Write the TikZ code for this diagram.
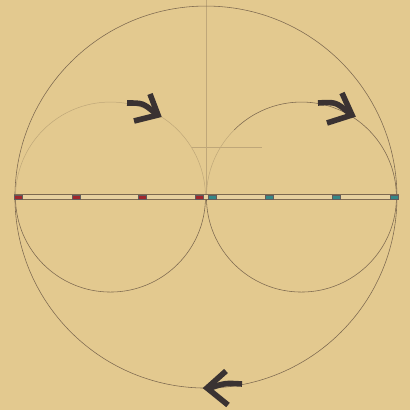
\documentclass[tikz,border=0pt]{standalone}
\usepackage{tikz}
\usetikzlibrary{positioning}
\definecolor{paper}{RGB}{227,201,143}
\definecolor{pencil}{RGB}{125,105,80}
\definecolor{ink}{RGB}{58,50,50}
\definecolor{redmark}{RGB}{160,38,44}
\definecolor{tealmark}{RGB}{52,135,135}
\colorlet{faintline}{pencil!35!paper}
\tikzset{
  markbox/.style={draw=ink!80,line width=0.3pt,fill=#1,minimum width=0.2cm,minimum height=0.11cm,inner sep=0pt},
  pen/.style={draw=pencil,line width=0.4pt},
  faint/.style={draw=faintline,line width=0.35pt},
  chevron/.style={draw=ink,line width=0.14cm,line cap=butt,line join=miter},
}
\begin{document}
\begin{tikzpicture}[scale=0.025]
  \fill[paper] (0,0) rectangle (410,410);
  \useasboundingbox (0,0) rectangle (410,410);
  \coordinate (O) at (206,213);
  \coordinate (L) at (110.5,213);
  \coordinate (R) at (301.5,213);

  % construction lines
  \draw[faint] (206,213) -- (206,410);
  \draw[faint] (192,263) -- (262,263);

  % great circle and the two small ones
  \draw[pen] (O) circle (191);
  \draw[pen] (L) ++(-95,0) arc (180:360:95);
  \draw[faint] (L) ++(95,0) arc (0:180:95);
  \draw[pen] (R) ++(-95,0) arc (180:360:95);
  \draw[pen] (R) ++(95,0) arc (0:135:95);
  \draw[faint] (R) ++(135:95) arc (135:180:95);

  % the divided diameter
  \draw[pen,fill=paper!85!white] (14,211) rectangle (398,215.5);
  \foreach \x [count=\i] in {18,76,142,199}
    \draw (\x,213) node[markbox=redmark] (r\i) {};
  \foreach \x [count=\i] in {212,269.5,336.5,394}
    \draw (\x,213) node[markbox=tealmark] (t\i) {};

  % direction of motion
  \draw[chevron] (127,307) .. controls (143,307) .. (155,297);
  \draw[chevron] (150,316) -- (158,295) -- (134,289);
  \draw[chevron] (318,307) .. controls (336,308) .. (349,297);
  \draw[chevron] (342,317) -- (352,295) -- (327,287);
  \draw[chevron] (242,26) .. controls (225,27) .. (210,22);
  \draw[chevron] (226,39) -- (207,22) -- (228,5);
\end{tikzpicture}
\end{document}
